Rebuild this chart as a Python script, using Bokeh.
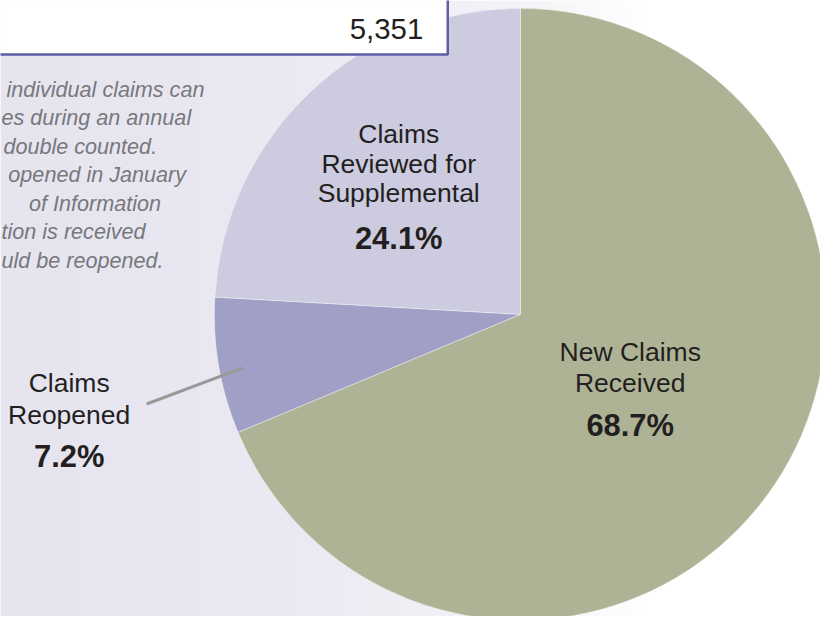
import numpy as np
from bokeh.plotting import figure
from bokeh.models import Range1d, ColumnDataSource
from bokeh.core.properties import value
from bokeh.embed import file_html
from bokeh.resources import INLINE

# ---------------- data ----------------
categories = ["New Claims Received", "Claims Reopened", "Claims Reviewed for Supplemental"]
label_lines = [["New Claims", "Received"], ["Claims", "Reopened"], ["Claims", "Reviewed for", "Supplemental"]]
shares = [68.7, 7.2, 24.1]
colors = ["#aeb396", "#a09fc6", "#cccbe0"]
total_label = "5,351"
note_fragments = [
    "individual claims can",
    "es during an annual",
    "double counted.",
    "opened in January",
    "of Information",
    "tion is received",
    "uld be reopened.",
]

# ---------------- layout: data units = reference pixels (836 x 632), y negated ----------------
W, H = 820, 616
REF_W, REF_H = 836, 632
S = W / REF_W
FONT = value("Liberation Sans")


def fs(px):
    return f"{px * S:.1f}px"


p = figure(width=W, height=H, output_backend="svg", toolbar_location=None,
           x_range=Range1d(0, REF_W), y_range=Range1d(-REF_H, 0),
           min_border=0, outline_line_color=None, background_fill_color="white",
           border_fill_color="white")
p.axis.visible = False
p.grid.visible = False

# background gradient (decorative)
xs = np.arange(REF_W)
ch = [np.interp(xs, [0, 300, 500, 660, 836], c) for c in
      ([229, 235, 242, 255, 255], [228, 234, 242, 255, 255], [239, 243, 247, 255, 255])]
img = np.zeros((2, REF_W), dtype=np.uint32)
view = img.view(dtype=np.uint8).reshape((2, REF_W, 4))
for k in range(3):
    view[:, :, k] = ch[k].astype(np.uint8)
view[:, :, 3] = 255
p.image_rgba(image=[img], x=0, y=-REF_H, dw=REF_W, dh=REF_H)

# pie
cx, cy, R = 530, -322, 312
fr = np.array(shares) / sum(shares)
cum = np.concatenate([[0], np.cumsum(fr)])
src = ColumnDataSource(dict(cat=categories, start=np.pi / 2 - 2 * np.pi * cum[:-1],
                            end=np.pi / 2 - 2 * np.pi * cum[1:], color=colors))
p.wedge(x=cx, y=cy, radius=R, start_angle="start", end_angle="end", direction="clock",
        fill_color="color", line_color="white", line_width=0.6, line_alpha=0.7, source=src)

# total box
p.quad(left=-20, right=456, top=20, bottom=-55.5, fill_color="white",
       line_color="#5c5ea6", line_width=2.5)
p.text(x=[431], y=[-29.5], text=[total_label], text_font=FONT, text_font_size=fs(30),
       text_align="right", text_baseline="middle", text_color="#231f20")

# note text (left part cut off in the source)
note_left = [6, 1, 3, 8, 29, 1, 1]
note_y = [-(91 + 29.3 * i) for i in range(len(note_fragments))]
p.text(x=note_left, y=note_y, text=note_fragments, text_font=FONT, text_font_size=fs(22),
       text_font_style="italic", text_align="left", text_baseline="middle",
       text_color="#77787c")

# slice labels
label_x = [642, 70, 406]
label_line_y = [[-360.5, -392], [-392, -425], [-136.5, -167.5, -198]]
pct_y = [-436, -468, -244]
tx, ty, tt = [], [], []
for i, lines in enumerate(label_lines):
    for ln, yy in zip(lines, label_line_y[i]):
        tx.append(label_x[i]); ty.append(yy); tt.append(ln)
p.text(x=tx, y=ty, text=tt, text_font=FONT, text_font_size=fs(27), text_align="center",
       text_baseline="middle", text_color="#231f20")
p.text(x=label_x, y=pct_y, text=[f"{v:.1f}%" for v in shares], text_font=FONT,
       text_font_size=fs(31.5), text_font_style="bold", text_align="center",
       text_baseline="middle", text_color="#231f20")

# leader line for small slice
p.line(x=[149, 247], y=[-414, -377], line_color="#999999", line_width=3)

open("out.html", "w").write(file_html(p, INLINE))
